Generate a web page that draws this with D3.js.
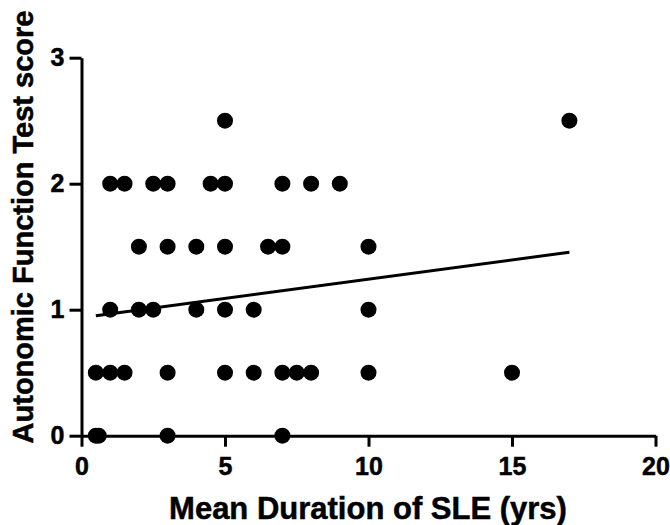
<!DOCTYPE html>
<html>
<head>
<meta charset="utf-8">
<script src="https://cdn.jsdelivr.net/npm/d3@7"></script>
<style>
  body { margin: 0; background: #fff; }
  text { font-family: "Liberation Sans", Arial, sans-serif; font-weight: bold; }
</style>
</head>
<body>
<script>
// duration (yrs) of each patient, grouped by score
const score25 = [5, 17]
const score20 = [1, 1.5, 2.5, 3, 4.5, 5, 7, 8, 9]
const score15 = [2, 3, 4, 5, 6.5, 7, 10]
const score10 = [1, 2, 2.5, 4, 5, 6, 10]
const score05 = [0.5, 1, 1.5, 3, 5, 6, 7, 7.5, 8, 10, 15]
const score00 = [0.5, 0.6, 3, 7]

const xTicks = [0, 5, 10, 15, 20]
const yTicks = [0, 1, 2, 3]

// fitted line
const fitSlope = 0.0306
const fitIntercept = 0.936
const fitRange = [0.5, 17]

const points = []
;[[2.5, score25], [2, score20], [1.5, score15], [1, score10], [0.5, score05], [0, score00]]
    .forEach(([s, xs]) => xs.forEach(x => points.push({x: x, y: s})))

const width = 670, height = 525

const svg = d3.select("body").append("svg")
    .attr("width", width)
    .attr("height", height)

const x = d3.scaleLinear().domain([0, 20]).range([81.5, 655.5])
const y = d3.scaleLinear().domain([0, 3]).range([435.7, 57.7])

const xAxis = svg.append("g")
    .attr("transform", `translate(0, ${y(0)})`)
    .call(d3.axisBottom(x).tickValues(xTicks).tickFormat(d3.format("d"))
        .tickSize(11).tickSizeOuter(0).tickPadding(11))
const yAxis = svg.append("g")
    .attr("transform", `translate(${x(0)}, 0)`)
    .call(d3.axisLeft(y).tickValues(yTicks).tickFormat(d3.format("d"))
        .tickSize(12).tickSizeOuter(0).tickPadding(5))

;[xAxis, yAxis].forEach(g => {
    g.attr("font-family", null).attr("font-size", null)
    g.selectAll("path, line").attr("stroke", "#000").attr("stroke-width", 3)
    g.selectAll("text").attr("fill", "#000").attr("stroke", "#000").attr("stroke-width", 0.5)
        .style("font-size", "25px")
})

svg.append("g").selectAll("circle")
    .data(points)
    .enter()
    .append("circle")
    .attr("cx", d => x(d.x))
    .attr("cy", d => y(d.y))
    .attr("r", 8)
    .attr("fill", "#000")

svg.append("line")
    .attr("x1", x(fitRange[0]))
    .attr("y1", y(fitIntercept + fitSlope * fitRange[0]))
    .attr("x2", x(fitRange[1]))
    .attr("y2", y(fitIntercept + fitSlope * fitRange[1]))
    .attr("stroke", "#000")
    .attr("stroke-width", 3)

svg.append("text")
    .attr("x", 368)
    .attr("y", 519)
    .attr("text-anchor", "middle")
    .attr("stroke", "#000")
    .attr("stroke-width", 0.5)
    .style("font-size", "31px")
    .text("Mean Duration of SLE (yrs)")

svg.append("text")
    .attr("transform", "translate(33, 227) rotate(-90)")
    .attr("text-anchor", "middle")
    .attr("stroke", "#000")
    .attr("stroke-width", 0.5)
    .style("font-size", "29px")
    .text("Autonomic Function Test score")
</script>
</body>
</html>
